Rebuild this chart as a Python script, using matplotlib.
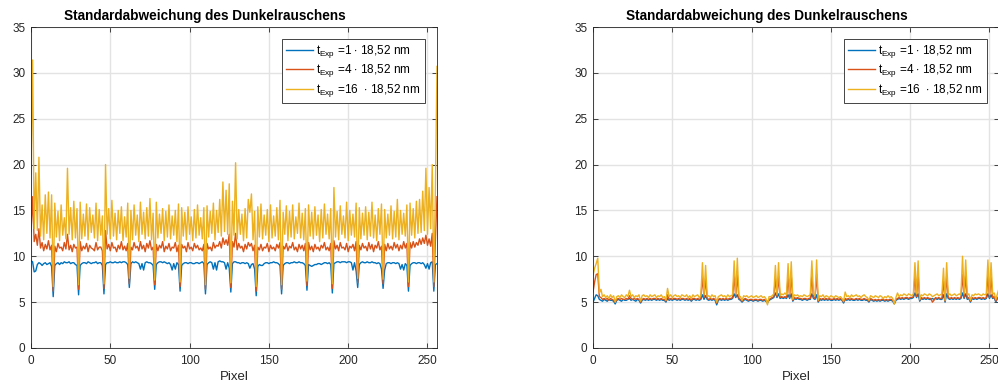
import numpy as np
import matplotlib
matplotlib.use('Agg')
import matplotlib.pyplot as plt

plt.rcParams.update({
    'font.family': 'Liberation Sans',
    'mathtext.fontset': 'custom',
    'mathtext.rm': 'Liberation Sans',
    'mathtext.it': 'Liberation Sans:italic',
    'mathtext.bf': 'Liberation Sans:bold',
})

# --- left panel: std of dark noise, pixel 0..256 ---
left_t1 = [
    9.5, 9.4, 8.3, 8.4, 9.1, 9.3, 9.2, 9.0, 9.2, 9.3, 9.1, 9.2, 9.3, 8.9, 5.6, 9.0,
    9.2, 9.3, 9.1, 9.3, 9.2, 9.4, 9.3, 9.3, 9.4, 9.2, 9.3, 9.3, 9.1, 9.0, 5.8, 9.0,
    9.2, 9.3, 9.3, 9.2, 9.4, 9.3, 9.2, 9.3, 9.3, 9.4, 9.2, 9.3, 9.3, 9.0, 5.9, 9.1,
    9.3, 9.3, 9.4, 9.3, 9.3, 9.4, 9.3, 9.3, 9.4, 9.3, 9.4, 9.4, 9.3, 9.1, 6.6, 9.2,
    9.4, 9.3, 9.4, 9.3, 9.2, 8.6, 9.2, 8.5, 9.3, 9.4, 9.3, 9.3, 9.2, 9.0, 6.4, 9.1,
    9.3, 9.4, 9.4, 9.3, 9.4, 9.3, 9.2, 9.3, 9.1, 8.5, 9.2, 8.6, 9.3, 9.1, 6.2, 9.0,
    9.2, 9.3, 9.3, 9.2, 9.3, 9.3, 9.2, 9.2, 9.3, 9.3, 9.2, 9.3, 9.4, 9.2, 5.9, 9.1,
    9.3, 9.4, 9.3, 8.6, 9.3, 8.5, 9.4, 9.5, 9.4, 9.4, 9.3, 8.6, 9.3, 8.7, 6.1, 9.2,
    9.4, 9.4, 9.3, 9.3, 9.2, 9.3, 9.3, 9.2, 9.3, 9.2, 8.7, 9.1, 9.2, 8.6, 5.7, 8.9,
    9.1, 9.0, 9.0, 9.2, 9.3, 9.3, 9.2, 9.3, 9.3, 9.4, 9.3, 9.3, 9.2, 9.0, 5.9, 9.0,
    9.2, 9.3, 9.3, 9.2, 9.3, 9.3, 9.4, 9.3, 9.3, 9.4, 9.3, 9.3, 9.2, 9.0, 6.3, 9.1,
    9.0, 8.9, 9.0, 9.1, 9.1, 9.2, 9.2, 9.1, 9.2, 9.3, 9.3, 9.2, 9.3, 9.1, 6.0, 9.2,
    9.3, 9.4, 9.4, 9.3, 9.4, 9.4, 9.4, 9.3, 9.4, 9.4, 9.3, 8.5, 9.3, 8.4, 6.6, 9.1,
    9.3, 9.4, 9.3, 9.3, 9.4, 9.3, 9.3, 9.4, 9.3, 9.3, 9.2, 9.3, 9.2, 8.6, 6.5, 8.5,
    9.2, 9.3, 9.3, 9.2, 9.3, 9.3, 9.2, 9.3, 9.2, 8.6, 9.1, 8.5, 9.2, 9.0, 6.2, 9.0,
    9.2, 9.3, 9.3, 9.2, 9.3, 9.3, 9.2, 9.3, 9.1, 8.7, 9.2, 8.6, 9.3, 9.4, 6.2, 9.1,
    9.2,
]
left_t4 = [
    12.7, 16.5, 11.6, 12.4, 11.2, 13.0, 10.9, 11.5, 10.6, 11.3, 10.8, 11.7, 10.7, 11.2, 6.2, 11.1,
    10.5, 11.4, 10.9, 11.0, 10.6, 11.5, 10.8, 12.4, 10.7, 11.2, 10.5, 11.3, 10.9, 11.0, 6.4, 11.6,
    10.6, 11.1, 10.8, 11.4, 10.5, 11.2, 10.9, 10.8, 10.6, 11.5, 10.7, 11.0, 11.0, 10.6, 6.5, 12.8,
    10.8, 11.3, 10.6, 11.5, 10.9, 11.0, 10.5, 11.2, 10.8, 11.6, 10.7, 11.1, 10.6, 11.4, 7.0, 11.0,
    10.7, 11.5, 10.9, 11.1, 10.6, 11.6, 10.8, 11.2, 10.5, 11.4, 10.9, 11.7, 10.7, 11.0, 6.9, 11.3,
    10.6, 11.2, 10.9, 11.6, 10.5, 11.1, 10.8, 11.4, 10.6, 11.0, 10.9, 11.5, 10.5, 11.2, 6.7, 11.3,
    10.9, 11.1, 10.5, 11.5, 10.8, 11.0, 10.6, 11.4, 10.9, 11.2, 10.7, 10.9, 10.6, 11.3, 6.4, 11.4,
    10.8, 11.0, 10.6, 11.5, 10.9, 11.2, 11.1, 11.6, 10.9, 12.0, 11.3, 11.8, 11.2, 12.4, 6.6, 11.6,
    11.0, 12.5, 10.7, 11.4, 10.9, 11.1, 10.5, 11.3, 10.8, 11.5, 11.1, 11.4, 10.6, 11.2, 6.2, 11.0,
    10.7, 11.3, 10.6, 11.0, 10.9, 11.4, 10.5, 11.2, 10.8, 11.0, 10.6, 11.3, 10.9, 11.5, 6.4, 11.1,
    10.8, 11.4, 10.6, 11.1, 10.9, 11.5, 10.7, 11.0, 10.5, 11.3, 10.8, 11.2, 10.6, 11.4, 6.8, 11.5,
    10.7, 11.1, 10.5, 11.3, 10.8, 11.0, 10.6, 11.2, 10.9, 11.5, 10.7, 11.0, 10.6, 11.4, 6.5, 11.7,
    10.8, 11.2, 10.6, 11.5, 10.9, 11.0, 10.7, 11.4, 10.5, 11.1, 10.9, 11.3, 10.6, 11.6, 7.1, 11.2,
    10.7, 11.4, 10.9, 11.1, 10.6, 11.5, 10.8, 11.3, 10.5, 11.2, 10.9, 11.6, 10.7, 11.1, 7.0, 11.3,
    10.6, 11.4, 10.8, 11.1, 10.7, 11.5, 10.9, 11.3, 10.6, 11.2, 10.8, 11.6, 10.9, 11.4, 6.7, 11.5,
    10.9, 11.6, 11.0, 11.5, 11.2, 11.9, 11.3, 12.0, 11.4, 12.3, 11.2, 11.9, 11.1, 12.5, 6.7, 11.8,
    16.5,
]
left_t16 = [
    19.0, 31.4, 13.0, 19.1, 12.8, 20.8, 12.2, 15.6, 11.8, 16.7, 12.5, 17.0, 12.0, 16.7, 6.7, 15.8,
    12.1, 14.9, 11.7, 15.6, 12.3, 14.2, 11.9, 19.6, 12.4, 15.3, 11.8, 16.0, 12.0, 15.2, 6.9, 15.9,
    11.9, 14.6, 12.2, 15.7, 11.8, 15.3, 12.6, 14.5, 12.0, 15.8, 11.7, 15.1, 12.3, 14.4, 7.0, 20.0,
    12.4, 15.2, 11.9, 16.1, 12.2, 14.7, 11.8, 15.0, 12.5, 15.4, 11.7, 14.3, 12.1, 15.8, 7.6, 15.0,
    11.8, 15.6, 12.3, 14.5, 11.6, 15.9, 12.4, 14.8, 11.9, 15.3, 12.2, 16.3, 11.8, 14.7, 7.4, 15.9,
    12.0, 14.6, 12.5, 15.2, 11.7, 14.9, 12.1, 15.6, 11.9, 14.4, 12.3, 15.0, 11.6, 15.7, 7.2, 15.3,
    12.2, 14.8, 11.8, 15.4, 12.4, 14.3, 11.7, 15.1, 12.0, 15.6, 12.3, 14.2, 11.9, 15.3, 6.9, 15.5,
    12.1, 14.9, 12.5, 15.8, 11.8, 15.0, 12.6, 16.2, 12.2, 18.1, 12.7, 17.2, 12.4, 17.9, 7.1, 16.0,
    12.3, 20.2, 11.9, 15.1, 12.4, 14.6, 11.7, 15.2, 12.0, 16.2, 14.8, 16.8, 11.8, 14.9, 6.7, 15.4,
    12.1, 15.7, 11.9, 14.5, 12.3, 15.1, 11.6, 15.6, 12.0, 14.4, 12.2, 15.3, 11.8, 16.1, 6.9, 14.8,
    12.4, 15.5, 11.7, 14.9, 12.1, 15.6, 11.9, 14.3, 12.5, 15.8, 12.0, 14.7, 11.8, 15.2, 7.3, 15.6,
    12.2, 14.8, 11.9, 15.4, 12.3, 14.5, 11.6, 15.1, 12.0, 15.7, 12.4, 14.6, 11.9, 15.2, 7.0, 17.5,
    12.1, 14.9, 11.8, 15.5, 12.4, 14.4, 12.0, 15.9, 11.7, 15.0, 12.3, 14.6, 12.1, 15.8, 7.6, 15.3,
    11.9, 14.7, 12.3, 15.4, 11.8, 14.8, 12.2, 15.9, 12.0, 14.5, 11.7, 15.2, 12.4, 15.7, 7.5, 15.1,
    12.0, 14.6, 12.3, 15.5, 11.9, 14.9, 12.1, 16.2, 11.8, 15.0, 12.4, 14.7, 12.2, 15.6, 7.2, 15.8,
    12.3, 15.2, 12.0, 16.0, 12.5, 16.2, 12.6, 17.1, 12.8, 19.6, 12.4, 17.5, 13.0, 20.0, 7.2, 17.3,
    30.7,
]

# --- right panel ---
right_t1 = [
    5.0, 5.4, 5.8, 5.7, 5.3, 5.2, 5.1, 5.3, 5.2, 5.1, 5.3, 5.2, 5.2, 5.1, 4.8, 5.2,
    5.3, 5.2, 5.1, 5.3, 5.2, 5.2, 5.3, 5.4, 5.2, 5.3, 5.2, 5.1, 5.3, 5.2, 4.9, 5.2,
    5.3, 5.2, 5.3, 5.2, 5.3, 5.2, 5.3, 5.3, 5.2, 5.3, 5.2, 5.3, 5.2, 5.2, 5.0, 5.4,
    5.2, 5.3, 5.2, 5.3, 5.3, 5.2, 5.3, 5.2, 5.3, 5.3, 5.2, 5.3, 5.2, 5.3, 5.1, 5.3,
    5.3, 5.2, 5.3, 5.2, 5.3, 5.8, 5.3, 5.7, 5.3, 5.2, 5.3, 5.2, 5.3, 5.2, 4.7, 5.2,
    5.3, 5.2, 5.3, 5.2, 5.3, 5.2, 5.3, 5.3, 5.4, 5.9, 5.5, 5.8, 5.3, 5.2, 5.0, 5.2,
    5.3, 5.2, 5.1, 5.2, 5.2, 5.1, 5.2, 5.2, 5.1, 5.2, 5.2, 5.1, 5.2, 5.1, 4.9, 5.2,
    5.3, 5.4, 5.5, 6.0, 5.5, 5.9, 5.4, 5.5, 5.4, 5.5, 5.4, 5.8, 5.4, 5.9, 5.1, 5.4,
    5.3, 5.4, 5.3, 5.3, 5.2, 5.3, 5.3, 5.2, 5.3, 5.3, 5.9, 5.4, 5.3, 5.8, 5.0, 5.3,
    5.2, 5.3, 5.2, 5.3, 5.2, 5.3, 5.2, 5.2, 5.3, 5.2, 5.3, 5.2, 5.3, 5.2, 4.9, 5.3,
    5.2, 5.3, 5.2, 5.3, 5.2, 5.2, 5.3, 5.2, 5.3, 5.2, 5.2, 5.3, 5.2, 5.2, 5.0, 5.3,
    5.2, 5.1, 5.2, 5.1, 5.2, 5.1, 5.2, 5.2, 5.1, 5.2, 5.1, 5.2, 5.2, 5.1, 4.8, 5.2,
    5.3, 5.4, 5.3, 5.4, 5.3, 5.4, 5.4, 5.3, 5.4, 5.4, 5.5, 6.0, 5.5, 5.9, 5.1, 5.4,
    5.3, 5.4, 5.3, 5.4, 5.3, 5.3, 5.4, 5.3, 5.4, 5.3, 5.4, 5.3, 5.3, 5.8, 5.0, 5.9,
    5.4, 5.3, 5.4, 5.3, 5.4, 5.3, 5.4, 5.3, 5.4, 6.0, 5.4, 5.9, 5.3, 5.4, 5.0, 5.4,
    5.3, 5.4, 5.3, 5.4, 5.4, 5.3, 5.4, 5.3, 5.4, 5.9, 5.4, 5.8, 5.4, 5.5, 5.0, 5.4,
    5.5,
]
right_t4 = [
    6.1, 7.2, 8.0, 8.1, 5.6, 5.5, 5.3, 5.4, 5.3, 5.4, 5.2, 5.4, 5.3, 5.2, 5.0, 5.3,
    5.4, 5.3, 5.4, 5.3, 5.3, 5.4, 5.3, 5.7, 5.4, 5.3, 5.4, 5.3, 5.4, 5.3, 5.0, 5.3,
    5.4, 5.3, 5.4, 5.3, 5.4, 5.3, 5.4, 5.4, 5.3, 5.4, 5.3, 5.4, 5.3, 5.3, 5.1, 5.8,
    5.3, 5.4, 5.3, 5.4, 5.4, 5.3, 5.4, 5.3, 5.4, 5.4, 5.3, 5.4, 5.3, 5.4, 5.2, 5.4,
    5.4, 5.3, 5.4, 5.3, 5.4, 7.8, 5.5, 7.6, 5.4, 5.3, 5.4, 5.3, 5.4, 5.3, 4.9, 5.3,
    5.4, 5.3, 5.4, 5.3, 5.4, 5.3, 5.4, 5.4, 5.5, 7.9, 5.6, 8.0, 5.4, 5.3, 5.1, 5.3,
    5.4, 5.3, 5.2, 5.3, 5.3, 5.2, 5.3, 5.3, 5.2, 5.3, 5.3, 5.2, 5.3, 5.2, 5.0, 5.3,
    5.4, 5.5, 5.6, 7.6, 5.6, 7.8, 5.5, 5.6, 5.5, 5.6, 5.5, 7.7, 5.5, 7.9, 5.2, 5.5,
    5.4, 5.5, 5.4, 5.4, 5.3, 5.4, 5.4, 5.3, 5.4, 5.4, 7.9, 5.5, 5.4, 8.0, 5.1, 5.4,
    5.3, 5.4, 5.3, 5.4, 5.3, 5.4, 5.3, 5.3, 5.4, 5.3, 5.4, 5.3, 5.4, 5.3, 5.0, 5.4,
    5.3, 5.4, 5.3, 5.4, 5.3, 5.3, 5.4, 5.3, 5.4, 5.3, 5.3, 5.4, 5.3, 5.3, 5.1, 5.4,
    5.3, 5.2, 5.3, 5.2, 5.3, 5.2, 5.3, 5.3, 5.2, 5.3, 5.2, 5.3, 5.3, 5.2, 4.9, 5.3,
    5.4, 5.5, 5.4, 5.5, 5.4, 5.5, 5.5, 5.4, 5.5, 5.5, 5.6, 7.8, 5.6, 8.0, 5.2, 5.5,
    5.4, 5.5, 5.4, 5.5, 5.4, 5.4, 5.0, 5.2, 5.5, 5.4, 5.5, 5.4, 5.4, 7.3, 5.1, 7.8,
    5.5, 5.4, 5.5, 5.4, 5.5, 5.4, 5.5, 5.4, 5.5, 8.0, 5.5, 7.9, 5.4, 5.5, 5.1, 5.5,
    5.4, 5.5, 5.4, 5.5, 5.5, 5.4, 5.5, 5.4, 5.5, 7.9, 5.5, 7.7, 5.5, 5.6, 5.1, 5.5,
    5.6,
]
right_t16 = [
    7.9, 8.7, 9.2, 9.8, 6.0, 6.4, 5.6, 5.8, 5.5, 5.7, 5.4, 5.8, 5.5, 5.7, 5.0, 5.6,
    5.7, 5.5, 5.8, 5.6, 5.5, 5.8, 5.6, 6.3, 5.6, 5.8, 5.5, 5.7, 5.6, 5.8, 5.1, 5.7,
    5.8, 5.6, 5.7, 5.5, 5.8, 5.6, 5.7, 5.8, 5.5, 5.7, 5.6, 5.8, 5.5, 5.6, 5.2, 6.5,
    5.6, 5.8, 5.5, 5.7, 5.8, 5.6, 5.7, 5.5, 5.8, 5.7, 5.6, 5.8, 5.5, 5.7, 5.4, 5.8,
    5.6, 5.7, 5.8, 5.5, 5.7, 9.3, 5.8, 9.0, 5.6, 5.7, 5.5, 5.8, 5.6, 5.7, 5.0, 5.6,
    5.7, 5.8, 5.6, 5.7, 5.5, 5.8, 5.6, 5.7, 5.8, 9.5, 5.9, 9.8, 5.7, 5.6, 5.2, 5.7,
    5.6, 5.7, 5.5, 5.6, 5.7, 5.5, 5.6, 5.7, 5.5, 5.6, 5.7, 5.5, 5.6, 5.4, 4.7, 5.6,
    5.6, 5.7, 5.9, 9.0, 5.8, 9.3, 5.7, 5.9, 5.8, 6.0, 5.8, 9.2, 5.9, 9.4, 5.3, 5.8,
    5.7, 5.8, 5.6, 5.7, 5.6, 5.8, 5.7, 5.6, 5.7, 5.8, 9.5, 5.9, 5.7, 9.6, 5.2, 5.7,
    5.6, 5.8, 5.5, 5.7, 5.6, 5.5, 5.7, 5.6, 5.5, 5.7, 5.6, 5.5, 5.6, 5.4, 5.1, 6.1,
    5.6, 5.7, 5.5, 5.8, 5.6, 5.7, 5.8, 5.6, 5.7, 5.5, 5.7, 5.8, 5.6, 5.5, 5.2, 5.7,
    5.6, 5.5, 5.7, 5.6, 5.5, 5.7, 5.6, 5.4, 5.6, 5.5, 5.7, 5.5, 5.6, 5.4, 4.8, 5.5,
    6.0, 5.6, 5.8, 5.7, 5.9, 5.8, 5.7, 5.9, 5.8, 5.7, 5.9, 9.3, 5.9, 9.5, 5.3, 5.8,
    5.7, 5.9, 5.8, 5.7, 5.9, 5.8, 5.6, 5.7, 5.8, 5.9, 5.7, 5.8, 5.9, 8.7, 5.2, 9.3,
    5.8, 5.9, 5.7, 5.8, 5.9, 5.7, 5.8, 5.9, 5.8, 10.0, 5.9, 9.6, 5.8, 5.9, 5.2, 5.8,
    5.7, 5.9, 5.8, 5.9, 5.8, 5.7, 5.9, 5.8, 5.9, 9.6, 5.8, 9.3, 5.9, 6.0, 5.3, 5.9,
    6.5,
]

labels = [r'$\mathregular{t_{Exp}}$ =1 $\cdot$ 18,52 nm',
          r'$\mathregular{t_{Exp}}$ =4 $\cdot$ 18,52 nm',
          r'$\mathregular{t_{Exp}}$ =16  $\cdot$ 18,52 nm']
colors = ['#0072BD', '#D95319', '#EDB120']
title = 'Standardabweichung des Dunkelrauschens'
dark = '#262626'


def draw_panel(ax, series):
    for ys, c, lab in zip(series, colors, labels):
        ax.plot(np.arange(len(ys)), ys, color=c, lw=1.0, label=lab)
    ax.set_xlim(0, 256)
    ax.set_ylim(0, 35)
    ax.set_xticks(range(0, 251, 50))
    ax.set_yticks(range(0, 36, 5))
    ax.grid(True, color='#e3e3e3', lw=1.0)
    ax.set_axisbelow(True)
    ax.tick_params(direction='in', top=True, right=True, length=3.5, width=0.6,
                   colors=dark, labelsize=8.5)
    ax.tick_params(axis='x', pad=5)
    ax.tick_params(axis='y', pad=4)
    for s in ax.spines.values():
        s.set_color(dark)
        s.set_linewidth(0.6)
    ax.set_xlabel('Pixel', fontsize=9.5, color=dark, labelpad=3)
    ax.text(0.428, 1.022, title, transform=ax.transAxes, ha='center', va='baseline',
            fontsize=9.8, fontweight='bold')
    leg = ax.legend(loc='upper right', bbox_to_anchor=(394 / 406, 309 / 321),
                    borderaxespad=0, fontsize=8.5, fancybox=False, edgecolor=dark,
                    framealpha=1, handlelength=2.3, handletextpad=0.3,
                    labelspacing=0.2, borderpad=0.35)
    leg.get_frame().set_linewidth(0.6)


fig = plt.figure(figsize=(9.98, 3.87), dpi=100)
ax1 = fig.add_axes([31 / 998, 39 / 387, 406 / 998, 321 / 387])
ax2 = fig.add_axes([593 / 998, 39 / 387, 406 / 998, 321 / 387])
draw_panel(ax1, [left_t1, left_t4, left_t16])
draw_panel(ax2, [right_t1, right_t4, right_t16])

fig.savefig('out.png', dpi=100)
